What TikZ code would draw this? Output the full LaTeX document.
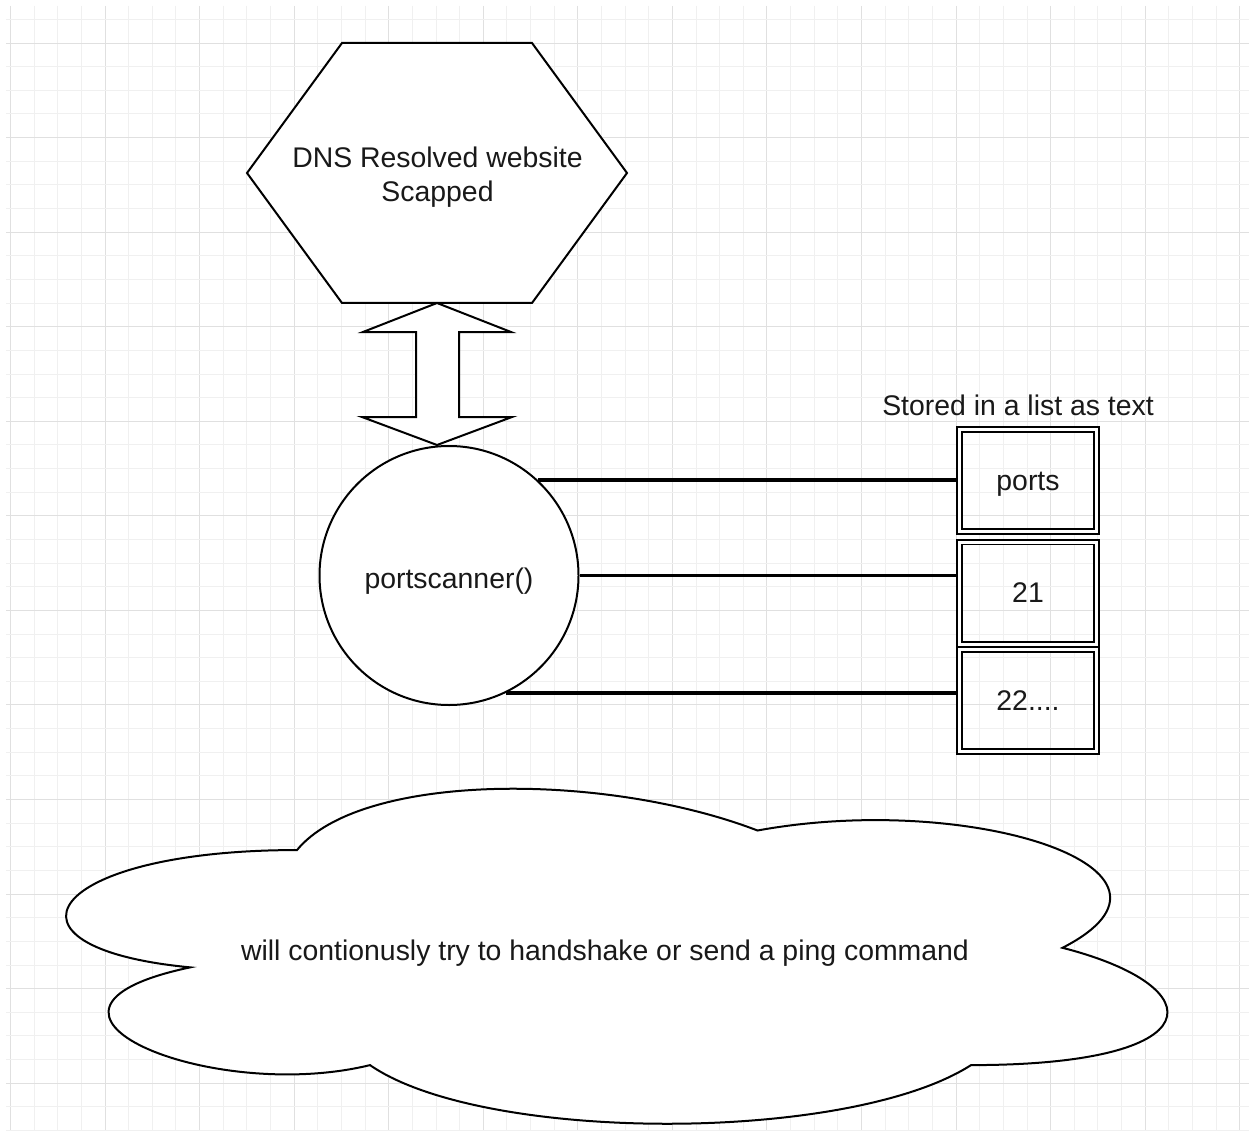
\documentclass[tikz,border=0pt]{standalone}
\usepackage{fontspec}
\setmainfont{Liberation Sans}
\begin{document}
\begin{tikzpicture}[x=1pt,y=-1pt,
  gridminor/.style={draw=black!6, line width=1pt},
  gridmajor/.style={draw=black!12, line width=1pt},
  outline/.style={draw=black, line width=2pt, line join=miter, fill=white},
  txt/.style={font=\fontsize{28.4}{34}\selectfont, text=black!90, inner sep=0pt},
  listbox/.style={draw=black, double=white, double distance=3pt, line width=1.8pt,
    minimum width=137pt, minimum height=102pt, inner sep=0pt, outer sep=3.3pt,
    txt, text height=19.4pt, text depth=0pt},
  wire/.style={draw=black, line width=3.8pt},
]
% page
\useasboundingbox (0,0) rectangle (1249,1131);
\fill[white] (0,0) rectangle (1249,1131);

% background grid
\begin{scope}
  \clip (6,6) rectangle (1249,1131);
  \foreach \i in {0,...,52}{
    \pgfmathtruncatemacro\m{mod(\i,4)}
    \ifnum\m=0 \def\gc{gridmajor}\else\def\gc{gridminor}\fi
    \draw[\gc] ({10.5+23.64*\i},6) -- ({10.5+23.64*\i},1131);
  }
  \foreach \j in {0,...,47}{
    \pgfmathtruncatemacro\m{mod(\j,4)}
    \ifnum\m=1 \def\gc{gridmajor}\else\def\gc{gridminor}\fi
    \draw[\gc] (6,{19.4+23.64*\j}) -- (1249,{19.4+23.64*\j});
  }
\end{scope}

% hexagon
\draw[outline] (342,43) -- (532,43) -- (627,173) -- (532,303) -- (342,303) -- (247,173) -- cycle;
\node[txt, align=center] (dns) at (437.5,177.5) {DNS Resolved website\\Scapped};

% port scanner
\node[outline, circle, minimum size=259pt, inner sep=0pt, txt, text height=25pt, text depth=0pt]
  (ps) at (449,575.5) {portscanner()};

% double arrow between hexagon and scanner
\draw[outline] (437,303) -- (511,332) -- (459,332) -- (459,417) -- (512,417) -- (437,445)
  -- (362,417) -- (416,417) -- (416,332) -- (363,332) -- cycle;

% list of ports
\node[txt, anchor=base] (title) at (1018,415) {Stored in a list as text};
\node[listbox] (b1) at (1028,480.7) {ports};
\node[listbox] (b2) at (1028,593) {21};
\node[listbox] (b3) at (1028,700.3) {22....};

\draw[wire] (ps.47) -- (ps.47 -| b1.west);
\draw[wire] (ps.east) -- (ps.east -| b2.west);
\draw[wire] (ps.-64) -- (ps.-64 -| b3.west);

% cloud
\draw[outline] (297,850.05)
  .. controls (45,850.05) and (-16,947.8) .. (190.2,967.35)
  .. controls (-14,1010.4) and (210,1104.2) .. (370,1065.1)
  .. controls (483,1143.3) and (849,1143.3) .. (971,1065.1)
  .. controls (1215,1065.1) and (1215,986.9) .. (1062.5,947.8)
  .. controls (1215,869.6) and (971,791.4) .. (757.5,830.5)
  .. controls (605,771.9) and (361,771.9) .. (297,850.05) -- cycle;
\node[txt, anchor=base] (ping) at (605,960) {will contionusly try to handshake or send a ping command};
\end{tikzpicture}
\end{document}
